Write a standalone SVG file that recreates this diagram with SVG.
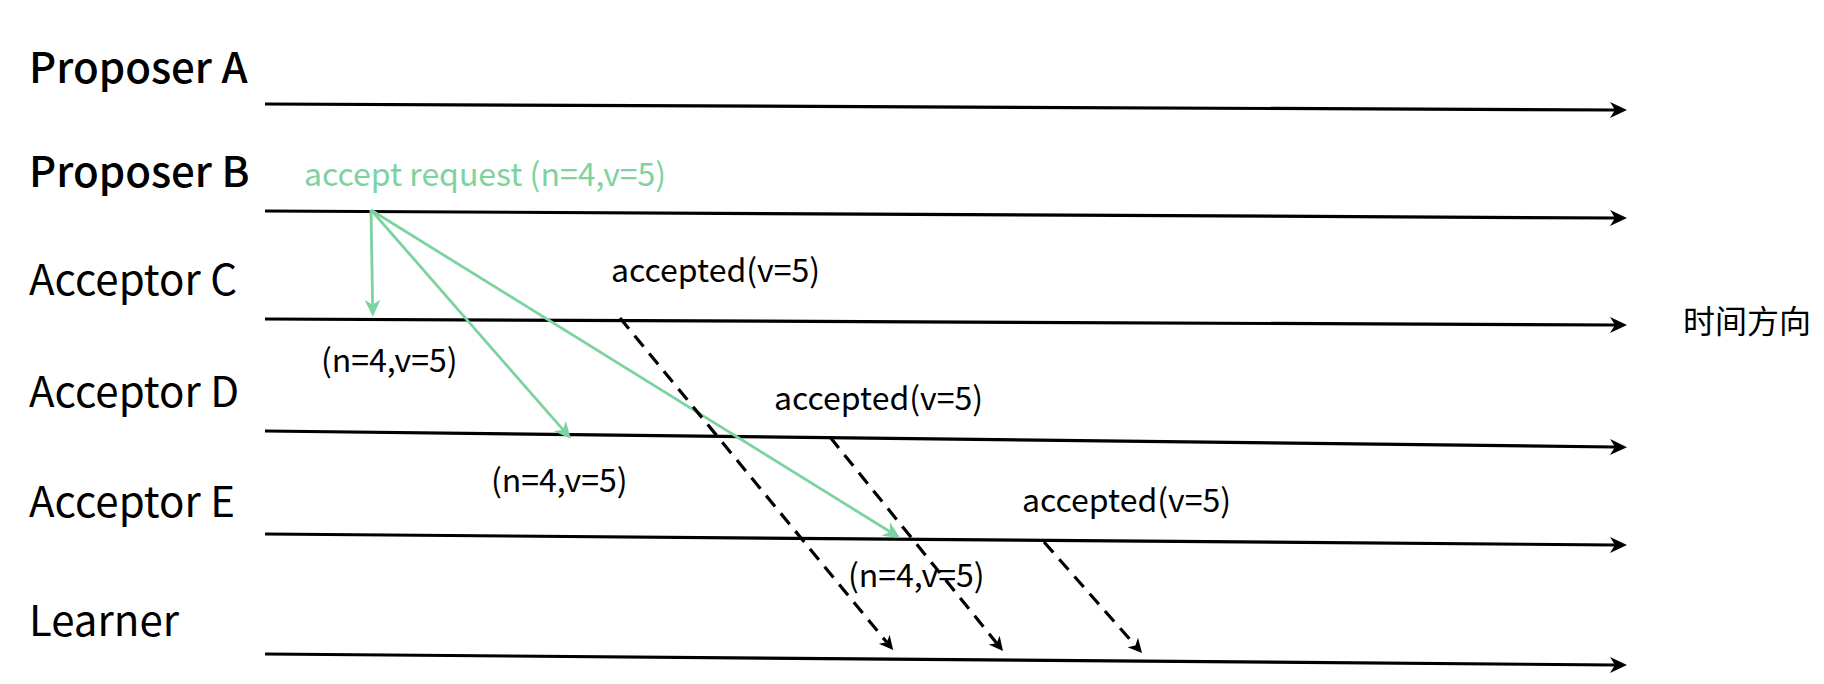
<svg xmlns="http://www.w3.org/2000/svg" width="1824" height="684" viewBox="0 0 1824 684">
<style>
text{font-family:"Noto Sans CJK SC","Noto Sans",sans-serif;fill:#000}
.lbl{font-size:42px}
.bold{font-weight:500}
.msg{font-size:32px}
.green{fill:#7dd3a0}
.life{stroke:#000;stroke-width:3.2;fill:none}
.req{stroke:#7dd3a0;stroke-width:2.8;fill:none}
.acc{stroke:#000;stroke-width:3.2;fill:none;stroke-dasharray:14 9}
</style>
<defs>
<marker id="ab" markerUnits="userSpaceOnUse" orient="auto" refX="0" refY="0" markerWidth="20" markerHeight="20" overflow="visible">
<path d="M12,0 L-5,-8 L0,0 L-5,8 Z" fill="#000"/>
</marker>
<marker id="ag" markerUnits="userSpaceOnUse" orient="auto" refX="0" refY="0" markerWidth="20" markerHeight="20" overflow="visible">
<path d="M12,0 L-5,-8 L0,0 L-5,8 Z" fill="#7dd3a0"/>
</marker>
<marker id="ad" markerUnits="userSpaceOnUse" orient="auto" refX="0" refY="0" markerWidth="20" markerHeight="20" overflow="visible">
<path d="M10,0 L-4,-7 L0,0 L-4,7 Z" fill="#000"/>
</marker>
</defs>
<g id="proposerA">
<text class="lbl bold" x="29" y="83">Proposer A</text>
<line class="life" x1="265" y1="104" x2="1615" y2="110" marker-end="url(#ab)"/>
</g>
<g id="proposerB">
<text class="lbl bold" x="29" y="187">Proposer B</text>
<line class="life" x1="265" y1="211" x2="1615" y2="218" marker-end="url(#ab)"/>
</g>
<g id="acceptorC">
<text class="lbl" x="29" y="295">Acceptor C</text>
<line class="life" x1="265" y1="319" x2="1615" y2="325" marker-end="url(#ab)"/>
</g>
<g id="acceptorD">
<text class="lbl" x="29" y="407">Acceptor D</text>
<line class="life" x1="265" y1="431" x2="1615" y2="447" marker-end="url(#ab)"/>
</g>
<g id="acceptorE">
<text class="lbl" x="29" y="517">Acceptor E</text>
<line class="life" x1="265" y1="534" x2="1615" y2="545" marker-end="url(#ab)"/>
</g>
<g id="learner">
<text class="lbl" x="29" y="636">Learner</text>
<line class="life" x1="265" y1="654" x2="1615" y2="665" marker-end="url(#ab)"/>
</g>
<g id="time">
<text class="msg" x="1683" y="333">时间方向</text>
</g>
<g id="connectors">
<line class="req" x1="371" y1="210" x2="372.6" y2="304.7" marker-end="url(#ag)"/>
<line class="req" x1="371" y1="210" x2="563" y2="429.7" marker-end="url(#ag)"/>
<line class="req" x1="371" y1="210" x2="890" y2="531.7" marker-end="url(#ag)"/>
<line class="acc" x1="620" y1="318" x2="886.8" y2="642.3" marker-end="url(#ad)"/>
<line class="acc" x1="830" y1="437" x2="996.7" y2="643.2" marker-end="url(#ad)"/>
<line class="acc" x1="1044" y1="542" x2="1135.4" y2="645.5" marker-end="url(#ad)"/>
<text class="msg green" x="304" y="186">accept request (n=4,v=5)</text>
<text class="msg" x="321" y="372">(n=4,v=5)</text>
<text class="msg" x="491" y="492">(n=4,v=5)</text>
<text class="msg" x="848" y="587">(n=4,v=5)</text>
<text class="msg" x="611" y="282">accepted(v=5)</text>
<text class="msg" x="774" y="410">accepted(v=5)</text>
<text class="msg" x="1022" y="512">accepted(v=5)</text>
</g>
</svg>
